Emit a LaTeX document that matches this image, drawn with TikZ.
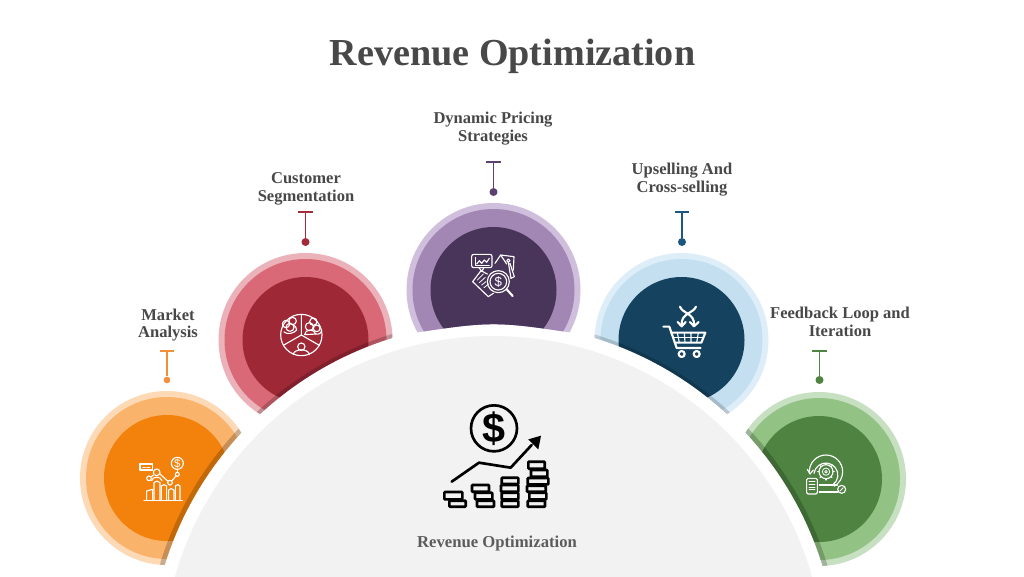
\documentclass[tikz,border=0pt]{standalone}
\usepackage{fontspec}
\usetikzlibrary{calc}
\setmainfont{Liberation Serif}
\newfontfamily\sansicon{Liberation Sans}
\definecolor{txt}{HTML}{484848}
\definecolor{subtxt}{HTML}{5C5C5C}
\definecolor{hub}{HTML}{F2F2F2}
\definecolor{oA}{HTML}{FDD9B5}\definecolor{oB}{HTML}{F9B36B}\definecolor{oC}{HTML}{F2820C}
\definecolor{rA}{HTML}{EBB2BA}\definecolor{rB}{HTML}{D96976}\definecolor{rC}{HTML}{9F2837}
\definecolor{pA}{HTML}{CFBEDC}\definecolor{pB}{HTML}{A287B5}\definecolor{pC}{HTML}{483559}
\definecolor{bA}{HTML}{DEEEF8}\definecolor{bB}{HTML}{C3DFF0}\definecolor{bC}{HTML}{15425F}
\definecolor{gA}{HTML}{C8E0C2}\definecolor{gB}{HTML}{93C384}\definecolor{gC}{HTML}{4E8341}
\definecolor{oL}{HTML}{F0913A}\definecolor{rL}{HTML}{A32B3B}\definecolor{pL}{HTML}{5B4070}
\definecolor{bL}{HTML}{1C5780}\definecolor{gL}{HTML}{4E8341}
\tikzset{
  lbl/.style={font=\fontsize{12.4}{13.4}\selectfont\bfseries, text=txt, align=center, inner sep=0pt},
  dotnode/.style={circle, inner sep=0pt, minimum size=#1},
  ic/.style={white, line width=.85pt, line join=round, line cap=round},
  icthin/.style={white, line width=.6pt, line join=round, line cap=round},
  icthick/.style={white, line width=1.6pt, line join=round, line cap=round},
  bk/.style={black, line width=2pt, line join=round, line cap=round},
  coin/.style={draw=black, line width=2pt, fill=hub, rounded corners=.6pt},
}
% petal: cx cy light mid dark band-radius band-opacity
\newcommand{\petal}[7]{%
  \fill[#3] (#1,#2) circle (87);
  \fill[#4] (#1,#2) circle (81);
  \fill[#5] (#1,#2) circle (63);
  \begin{scope}
    \clip (#1,#2) circle (87);
    \fill[black,opacity=#7] (493.5,667) circle (#6);
  \end{scope}}
% stem: name x ybar ydot colour dotsize
\newcommand{\stem}[6]{%
  \coordinate (top#1) at (#2,#3);
  \coordinate (barL#1) at ([xshift=-5.4pt]top#1);
  \coordinate (barR#1) at ([xshift=5.4pt]top#1);
  \node[dotnode=#6, fill=#5] (dot#1) at (#2,#4) {};
  \draw[#5, line width=1pt] (barL#1) -- (barR#1);
  \draw[#5, line width=1.05pt] (top#1) -- (dot#1);}
\begin{document}
\begin{tikzpicture}[x=.75pt,y=-.75pt]
\useasboundingbox (0,0) rectangle (1024,576);
\fill[white] (0,0) rectangle (1024,576);
\begin{scope}
\clip (0,0) rectangle (1024,576);
\petal{167}{478}{oA}{oB}{oC}{349}{.2}
\petal{305.5}{340}{rA}{rB}{rC}{348}{.2}
\petal{681.5}{340}{bA}{bB}{bC}{347.5}{.16}
\petal{819}{479}{gA}{gB}{gC}{349}{.2}
\fill[white] (493.5,667) circle (344);
\fill[hub] (493.5,667) circle (331);
\begin{scope}
\clip (397,150) -- (590,150) -- (590,335.6) .. controls (493.5,320.4) .. (397,335.6) -- cycle;
\fill[pA] (493.5,290) circle (87);
\fill[pB] (493.5,290) circle (81);
\fill[pC] (493.5,290) circle (63);
\end{scope}
\end{scope}

\node[font=\fontsize{28.6}{30}\selectfont\bfseries, text=txt, inner sep=0pt] (title) at (512.5,56) {Revenue Optimization};
\node[lbl] (market) at (168,325) {Market\\Analysis};
\node[lbl] (customer) at (306,189) {Customer\\Segmentation};
\node[lbl] (pricing) at (493,128.5) {Dynamic Pricing\\Strategies};
\node[lbl] (upsell) at (682,179.5) {Upselling And\\Cross-selling};
\node[lbl] (feedback) at (840,322) {Feedback Loop and\\Iteration};
\node[lbl, text=subtxt, font=\fontsize{12.5}{13}\selectfont\bfseries] (hubtext) at (497,543) {Revenue Optimization};

\stem{A}{167}{351}{380}{oL}{5pt}
\stem{B}{305.5}{212}{242}{rL}{6pt}
\stem{C}{493.5}{162}{192}{pL}{6pt}
\stem{D}{682}{212}{242}{bL}{6pt}
\stem{E}{819.5}{351}{380}{gL}{6pt}

% orange icon
\begin{scope}[shift={(70,290)},scale=1/3]
\draw[ic] (222,632) -- (337,632);
\draw[ic] (230,632) -- (230,603) -- (248,598) -- (248,632);
\draw[ic] (252,632) -- (252,578) -- (260,573) -- (270,578) -- (270,632);
\draw[ic] (274,632) -- (274,588) -- (282,584) -- (290,588) -- (290,632);
\draw[ic] (296,632) -- (296,600) -- (304,596) -- (312,600) -- (312,632);
\draw[ic] (316,632) -- (316,588) -- (324,584) -- (330,588) -- (330,632);
\draw[ic] (237,565) circle (7);
\draw[ic] (300,578) circle (7);
\draw[ic] (322,553) circle (6);
\draw[ic] (260,547) circle (10);
\draw[ic] (243,561) -- (250,555);
\draw[ic] (270,552) -- (294,574);
\draw[ic] (305,573) -- (318,558);
\draw[ic] (322,547) -- (322,538);
\draw[ic] (245,572) .. controls (247,558) and (273,558) .. (276,572);
\draw[ic] (322,520) circle (18);
\node[text=white, font=\sansicon\fontsize{8.5}{9}\selectfont, inner sep=0pt] (iconAd) at (322,520) {\$};
\draw[ic, fill=oC] (210,522) rectangle (248,540);
\draw[icthin] (218,531) -- (226,531) (230,531) -- (240,531);
\end{scope}

% red icon
\begin{scope}[shift={(210,160)},scale=1/3]
\draw[ic] (274,525) circle (62);
\draw[ic] (274,463) -- (274,525) -- (220,556) (274,525) -- (328,556);
\draw[ic] (274,560) circle (11);
\draw[ic] (250,584) .. controls (250,565) and (298,565) .. (298,584);
\draw[ic] (248,483) circle (11);
\draw[ic] (228,492) circle (11);
\draw[ic] (240,502) circle (12);
\draw[ic] (222,516) .. controls (232,525) and (252,520) .. (260,510) .. controls (260,503) and (254,496) .. (252,496);
\draw[ic] (310,485) circle (11);
\draw[ic] (298,500) circle (12);
\draw[ic] (320,505) circle (10);
\draw[ic] (284,524) .. controls (284,506) and (314,506) .. (317,522) -- (284,524);
\draw[ic] (317,522) .. controls (327,524) and (334,520) .. (335,510);
\end{scope}

% purple icon
\begin{scope}[shift={(400,100)},scale=1/3]
\draw[ic, rounded corners=1.5pt] (215,463) rectangle (276,503);
\draw[ic] (237,503) -- (245,514) -- (252,503);
\draw[icthin] (226,472) -- (226,495) -- (268,495);
\draw[ic] (230,492) -- (238,482) -- (245,490) -- (253,480) -- (260,487) -- (268,475);
\draw[ic] (285,490) -- (302,465) -- (342,470) -- (340,510);
\draw[ic] (302,465) -- (320,492);
\draw[ic] (325,482) circle (5);
\draw[ic] (325,487) -- (333,535) -- (343,530) -- (330,490);
\draw[ic] (218,545) -- (243,512) -- (262,522);
\draw[ic] (218,545) -- (265,590) -- (280,580);
\draw[icthin] (232,540) -- (250,522) (238,548) -- (256,532) (245,555) -- (258,545) (252,563) -- (266,552);
\draw[ic] (295,545) circle (33);
\draw[ic] (295,545) circle (25);
\node[text=white, font=\sansicon\fontsize{10}{10}\selectfont, inner sep=0pt] (iconCd) at (295,545) {\$};
\draw[icthick] (320,568) -- (338,588);
\end{scope}

% blue icon
\begin{scope}[shift={(590,150)},scale=1/3]
\draw[icthick] (220,530) -- (238,530) -- (260,594) -- (332,594);
\draw[icthick] (243,548) -- (346,548) -- (334,578) -- (255,578);
\draw[ic] (262,548) -- (268,578) (283,548) -- (285,578) (303,548) -- (303,578) (325,548) -- (320,578);
\draw[ic] (249,563) -- (340,563);
\draw[icthick] (275,612) circle (9);
\draw[icthick] (320,612) circle (9);
\draw[icthick] (270,470) .. controls (276,490) and (315,490) .. (312,525);
\draw[icthick] (318,470) .. controls (310,490) and (272,490) .. (275,525);
\draw[icthick] (263,516) -- (275,529) -- (287,516);
\draw[icthick] (300,516) -- (312,529) -- (326,516);
\end{scope}

% green icon
\begin{scope}[shift={(730,300)},scale=1/3]
\draw[ic] (238,515) arc[start angle=180,end angle=420,radius=50];
\draw[ic] (252,520) arc[start angle=188,end angle=415,radius=36];
\draw[ic] (232,508) -- (240,522) -- (250,510);
\draw[ic] (288,515) circle (21);
\draw[icthin] (288,515) circle (11);
\draw[icthin] (288,515) circle (4);
\foreach \a in {0,45,...,315} \draw[ic] ($(288,515)+(\a:21)$) -- ($(288,515)+(\a:25)$);
\draw[ic, rounded corners=1pt] (230,535) rectangle (262,582);
\draw[icthin] (237,545) -- (255,545) (237,553) -- (255,553) (237,561) -- (255,561) (237,569) -- (255,569);
\draw[ic] (268,555) -- (322,555) (268,576) -- (324,576);
\draw[ic] (335,568) circle (12);
\draw[icthin] (330,573) -- (340,563);
\end{scope}

% black icon
\begin{scope}[shift={(400,390)},scale=1/3]
\draw[bk] (282,115) circle (69);
\node[text=black, font=\sansicon\bfseries\fontsize{31}{32}\selectfont, inner sep=0pt] (hubdollar) at (282,117) {\$};
\draw[bk] (155,275) -- (237,218) -- (332,233) -- (395,165);
\fill[black] (385,148) -- (423,137) -- (415,178) -- cycle;
\foreach \a/\b/\c/\d in {
  133/306/187/328, 148/332/197/350,
  216/285/267/305, 225/308/277/328, 231/332/282/350,
  305/263/355/282, 303/285/355/305, 305/308/355/328, 305/332/355/350,
  385/215/434/236, 393/240/442/260, 383/264/445/283, 381/287/437/305, 388/308/439/328, 383/332/435/350}
  \draw[coin] (\a,\b) rectangle (\c,\d);
\end{scope}
\end{tikzpicture}
\end{document}
